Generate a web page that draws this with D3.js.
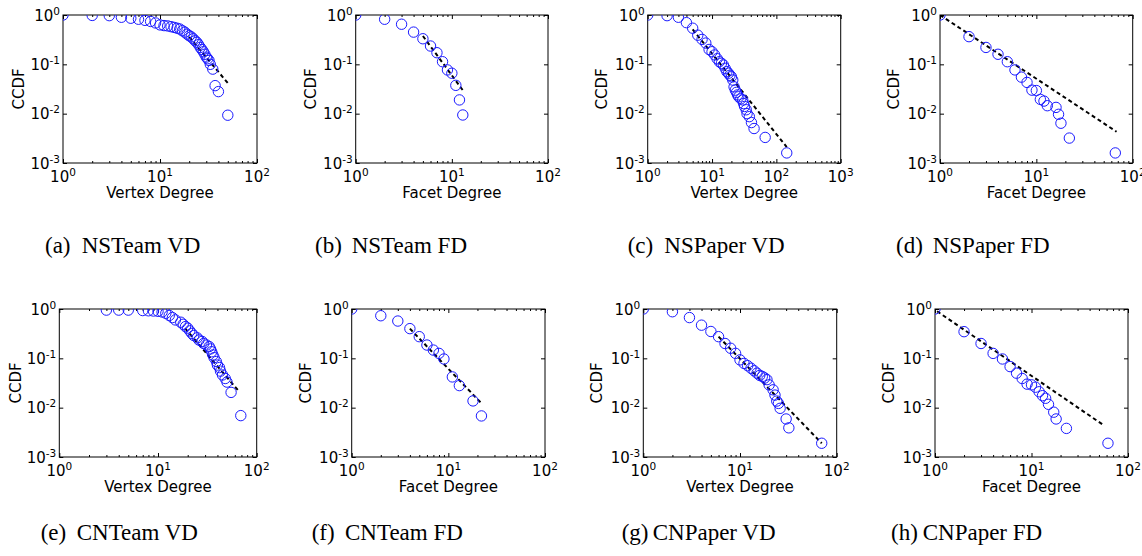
<!DOCTYPE html>
<html><head><meta charset="utf-8">
<script src="https://cdn.jsdelivr.net/npm/d3@7"></script>
<style>body{margin:0;background:#fff}</style>
</head><body>
<svg id="chart" width="1142" height="556"></svg>
<script>
// ---------- data ----------
const nsTeamVD_deg  = [1,2,3,4,5,6,7,8,9,10,11,12,13,14,15,16,17,18,19,20,21,22,23,24,25,26,27,28,29,30,31,32,33,35,37,40,50];
const nsTeamVD_ccdf = [1,0.98,0.97,0.9,0.86,0.82,0.78,0.74,0.69,0.63,0.61,0.6,0.58,0.56,0.54,0.52,0.48,0.45,0.41,0.38,0.36,0.33,0.3,0.28,0.25,0.22,0.2,0.18,0.16,0.14,0.13,0.12,0.1,0.08,0.037,0.028,0.0093];
const nsTeamVD_fit  = [[20,0.36],[52,0.038]];

const nsTeamFD_deg  = [1,2,3,4,5,6,7,8,9,10,11,12,13];
const nsTeamFD_ccdf = [1,0.82,0.65,0.45,0.33,0.235,0.172,0.113,0.077,0.066,0.0375,0.019,0.0094];
const nsTeamFD_fit  = [[5,0.375],[13.5,0.027]];

const nsPaperVD_deg  = [1,2,3,4,5,6,7,8,9,10,11,12,13,14,15,16,17,18,19,20,21,22,23,24,25,26,28,30,31,32,34,35,38,41,45,67,145];
const nsPaperVD_ccdf = [1,0.97,0.9,0.7,0.54,0.39,0.32,0.27,0.2,0.18,0.155,0.13,0.113,0.105,0.097,0.083,0.071,0.066,0.06,0.056,0.048,0.035,0.03,0.027,0.024,0.022,0.02,0.019,0.016,0.014,0.012,0.01,0.0087,0.0066,0.005,0.0033,0.0016];
const nsPaperVD_fit  = [[5,0.51],[145,0.0021]];

const nsPaperFD_deg  = [1,2,3,4,5,6,7,8,9,10,11,12,13,16,17,18,22,66];
const nsPaperFD_ccdf = [1,0.364,0.22,0.16,0.113,0.077,0.055,0.043,0.030,0.0294,0.0195,0.018,0.0145,0.0134,0.0097,0.0064,0.0032,0.0016];
const nsPaperFD_fit  = [[1,1],[68,0.0043]];

const cnTeamVD_deg  = [3,4,5,7,8,9,10,11,12,13,14,15,17,18,19,20,21,22,23,25,26,28,29,31,33,34,35,36,37,39,40,42,43,45,48,50,55,69];
const cnTeamVD_ccdf = [0.95,0.95,0.95,0.93,0.92,0.91,0.9,0.87,0.82,0.74,0.67,0.6,0.54,0.49,0.44,0.41,0.36,0.32,0.29,0.26,0.235,0.22,0.2,0.186,0.173,0.155,0.136,0.117,0.103,0.086,0.073,0.065,0.055,0.046,0.039,0.033,0.0204,0.0069];
const cnTeamVD_fit  = [[18.8,0.405],[66.7,0.021]];

const cnTeamFD_deg  = [1,2,3,4,5,6,7,8,9,11,13,18,22];
const cnTeamFD_ccdf = [1,0.73,0.57,0.4,0.275,0.186,0.147,0.126,0.097,0.042,0.028,0.0137,0.0068];
const cnTeamFD_fit  = [[4,0.4],[22.5,0.0117]];

const cnPaperVD_deg  = [1,2,3,4,5,6,7,8,9,10,11,12,13,14,15,16,17,18,19,20,22,23,24,25,26,30,32,70];
const cnPaperVD_ccdf = [1,0.88,0.67,0.47,0.35,0.275,0.2,0.16,0.126,0.093,0.079,0.071,0.063,0.056,0.05,0.045,0.043,0.04,0.037,0.029,0.023,0.018,0.0136,0.0122,0.0097,0.0059,0.0039,0.0019];
const cnPaperVD_fit  = [[6,0.275],[70,0.0019]];

const cnPaperFD_deg  = [1,2,3,4,5,6,7,8,9,10,11,12,13,14,15,17,18,23,62];
const cnPaperFD_ccdf = [1,0.347,0.2,0.126,0.097,0.068,0.05,0.039,0.03,0.029,0.026,0.021,0.0175,0.0155,0.0117,0.0081,0.0059,0.0038,0.0019];
const cnPaperFD_fit  = [[1.05,0.9],[57,0.0043]];

const captionLetters = ["(a)","(b)","(c)","(d)","(e)","(f)","(g)","(h)"];
const captionNames   = ["NSTeam VD","NSTeam FD","NSPaper VD","NSPaper FD","CNTeam VD","CNTeam FD","CNPaper VD","CNPaper FD"];
const xAxisLabels    = ["Vertex Degree","Facet Degree","Vertex Degree","Facet Degree","Vertex Degree","Facet Degree","Vertex Degree","Facet Degree"];
const yAxisLabel     = "CCDF";
const xMaxExponents  = [2,2,3,2,2,2,2,2];
const yTickExponents = [0,-1,-2,-3];

const panelDeg  = [nsTeamVD_deg,nsTeamFD_deg,nsPaperVD_deg,nsPaperFD_deg,cnTeamVD_deg,cnTeamFD_deg,cnPaperVD_deg,cnPaperFD_deg];
const panelCcdf = [nsTeamVD_ccdf,nsTeamFD_ccdf,nsPaperVD_ccdf,nsPaperFD_ccdf,cnTeamVD_ccdf,cnTeamFD_ccdf,cnPaperVD_ccdf,cnPaperFD_ccdf];
const panelFit  = [nsTeamVD_fit,nsTeamFD_fit,nsPaperVD_fit,nsPaperFD_fit,cnTeamVD_fit,cnTeamFD_fit,cnPaperVD_fit,cnPaperFD_fit];

// ---------- layout ----------
const layout = [
  {l:63,   r:257,   t:15,  b:163, yl:18.3,  cx:45,    cn:81.7,  cy:253},
  {l:355.7,r:548,   t:15,  b:163, yl:310,   cx:315,   cn:351.7, cy:253},
  {l:647.7,r:840.7, t:15,  b:163, yl:601.7, cx:627.7, cn:664.3, cy:253},
  {l:940,  r:1132.7,t:15,  b:163, yl:893,   cx:896,   cn:932.7, cy:253},
  {l:59.3, r:256.7, t:309, b:457, yl:15,    cx:40.7,  cn:76.7,  cy:539.5},
  {l:351.7,r:545,   t:309, b:457, yl:305.7, cx:311.7, cn:345,   cy:539.5},
  {l:643.3,r:836.7, t:309, b:457, yl:596.7, cx:621.7, cn:652.7, cy:539.5},
  {l:935,  r:1128,  t:309, b:457, yl:888.3, cx:891,   cn:922.7, cy:539.5}
];

const sans = "'DejaVu Sans', sans-serif";
const serif = "'Liberation Serif', 'Times New Roman', serif";
const svg = d3.select("#chart");
const defs = svg.append("defs");

layout.forEach((L, i) => {
  const xMax = Math.pow(10, xMaxExponents[i]);
  const x = d3.scaleLog().domain([1, xMax]).range([L.l, L.r]);
  const y = d3.scaleLog().domain([1e-3, 1]).range([L.b, L.t]);
  const g = svg.append("g");

  const clipId = "clip" + i;
  defs.append("clipPath").attr("id", clipId).append("rect")
    .attr("x", L.l).attr("y", L.t).attr("width", L.r - L.l).attr("height", L.b - L.t);

  // ticks via d3 axes
  const majorX = d3.range(0, xMaxExponents[i] + 1).map(e => Math.pow(10, e));
  const minorX = [];
  for (let e = 0; e < xMaxExponents[i]; e++) for (let k = 2; k <= 9; k++) minorX.push(k * Math.pow(10, e));
  const majorY = yTickExponents.map(e => Math.pow(10, e));

  const mk = (axis, vals, size) => axis.tickValues(vals).tickSizeInner(-size).tickSizeOuter(0).tickFormat(() => "");
  const addAxis = (axisFn, scale, vals, size, tr) => {
    const a = g.append("g").attr("transform", tr).call(mk(axisFn(scale), vals, size));
    a.select(".domain").remove();
    a.selectAll("line").attr("stroke", "#000").attr("stroke-width", 1);
    a.selectAll("text").remove();
  };
  addAxis(d3.axisBottom, x, majorX, 4, `translate(0,${L.b})`);
  addAxis(d3.axisBottom, x, minorX, 2, `translate(0,${L.b})`);
  addAxis(d3.axisTop, x, majorX, 4, `translate(0,${L.t})`);
  addAxis(d3.axisTop, x, minorX, 2, `translate(0,${L.t})`);
  addAxis(d3.axisLeft, y, majorY, 4, `translate(${L.l},0)`);
  addAxis(d3.axisRight, y, majorY, 4, `translate(${L.r},0)`);

  // frame
  g.append("rect").attr("x", L.l).attr("y", L.t).attr("width", L.r - L.l).attr("height", L.b - L.t)
    .attr("fill", "none").attr("stroke", "#000").attr("stroke-width", 1);

  // x tick labels
  d3.range(0, xMaxExponents[i] + 1).forEach(e => {
    const t = g.append("text").attr("x", x(Math.pow(10, e))).attr("y", L.b + 18.5)
      .attr("text-anchor", "middle").attr("font-family", sans).attr("font-size", 15).attr("fill", "#000");
    t.append("tspan").text("10");
    t.append("tspan").attr("font-size", 10.5).attr("dy", -6).text(String(e));
  });
  // y tick labels
  yTickExponents.forEach(e => {
    const t = g.append("text").attr("x", L.l - 3).attr("y", y(Math.pow(10, e)) + 5.5)
      .attr("text-anchor", "end").attr("font-family", sans).attr("font-size", 15).attr("fill", "#000");
    t.append("tspan").text("10");
    t.append("tspan").attr("font-size", 10.5).attr("dy", -6).text(e === 0 ? "0" : "-" + Math.abs(e));
  });

  // axis labels
  g.append("text").attr("x", (L.l + L.r) / 2).attr("y", L.b + 34.5).attr("text-anchor", "middle")
    .attr("font-family", sans).attr("font-size", 15).attr("fill", "#000").text(xAxisLabels[i]);
  g.append("text").attr("transform", `translate(${L.yl + 5.5},${(L.t + L.b) / 2}) rotate(-90)`)
    .attr("text-anchor", "middle").attr("font-family", sans).attr("font-size", 15).attr("fill", "#000").text(yAxisLabel);

  // data
  const pts = panelDeg[i].map((d, j) => [d, panelCcdf[i][j]]);
  const pg = g.append("g").attr("clip-path", `url(#${clipId})`);
  pg.append("path").datum(panelFit[i])
    .attr("d", d3.line().x(d => x(d[0])).y(d => y(d[1])))
    .attr("fill", "none").attr("stroke", "#000").attr("stroke-width", 2).attr("stroke-dasharray", "4,3");
  pg.selectAll("circle").data(pts).enter().append("circle")
    .attr("cx", d => x(d[0])).attr("cy", d => y(d[1])).attr("r", 5.2)
    .attr("fill", "none").attr("stroke", "#1a1aff").attr("stroke-width", 1);

  // caption
  svg.append("text").attr("x", L.cx).attr("y", L.cy).attr("font-family", serif).attr("font-size", 23)
    .attr("fill", "#000").text(captionLetters[i]);
  svg.append("text").attr("x", L.cn).attr("y", L.cy).attr("font-family", serif).attr("font-size", 23)
    .attr("fill", "#000").text(captionNames[i]);
});
</script>
</body></html>
